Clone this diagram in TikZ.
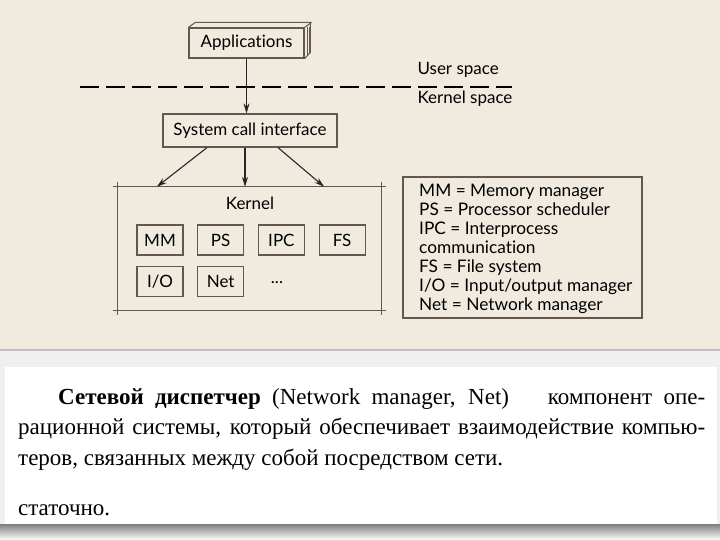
\documentclass[tikz,border=0pt]{standalone}
\usepackage{fontspec}
\setmainfont{Liberation Serif}
\newfontfamily\diagfont[Ligatures=NoCommon]{Lato}
\usetikzlibrary{arrows.meta,positioning,calc}
\definecolor{paper}{RGB}{240,234,223}
\definecolor{inkline}{RGB}{100,88,78}
\definecolor{shade}{RGB}{222,222,222}
\definecolor{lightshade}{RGB}{240,240,240}
\tikzset{unit/.style={draw=inkline,line width=1.2pt,minimum width=46pt,minimum height=30pt,inner sep=0pt,font=\diagfont\fontsize{17}{19}\selectfont},edge/.style={-{Stealth[length=10pt,width=6pt]},line width=1.1pt,draw=black!85},spacetext/.style={anchor=west,font=\diagfont\fontsize{17}{19}\selectfont}}
\begin{document}
\begin{tikzpicture}[x=1pt,y=-1pt,node distance=13.5pt]
\useasboundingbox (0,0) rectangle (720,540);
% page background
\fill[lightshade] (0,350) rectangle (720,540);
\fill[paper] (0,0) rectangle (720,350);
\draw[black!25,line width=1.5pt] (0,350) -- (720,350);
\fill[white] (5,367) rectangle (717,524);
\fill[shade] (0,524) rectangle (720,540);
% user side
\node[unit,fill=paper,minimum width=115pt,minimum height=30pt] (apps) at (246.5,43) {Applications};
\draw[inkline,line width=1pt] (apps.north west) -- ++(7,-5) -- ++(115,0) -- ++(0,30) -- (apps.south east);
\draw[inkline,line width=1pt] (apps.north east) -- ++(7,-5);
\draw[inkline,line width=0.6pt] ([xshift=2.5pt]apps.north east) -- ++(0,28);
\draw[inkline,line width=0.6pt] ([xshift=5pt]apps.north east) -- ++(0,26);
\draw[dash pattern=on 19pt off 7pt,line width=1.1pt] (80,87) -- (512,87);
\node[spacetext] (user) at (414,70) {User space};
\node[spacetext] (kspace) at (414,99) {Kernel space};
\node[unit,minimum width=174pt,minimum height=33pt] (sci) at (250,130.5) {System call interface};
% kernel
\node[minimum width=263pt,minimum height=123pt] (kernel) at (249.5,248.5) {};
\draw[inkline,line width=1.2pt,shorten <=-5pt,shorten >=-5pt] (kernel.north west) -- (kernel.north east);
\draw[inkline,line width=1.2pt,shorten <=-5pt,shorten >=-5pt] (kernel.south west) -- (kernel.south east);
\draw[inkline,line width=1.2pt,shorten <=-5pt,shorten >=-5pt] (kernel.north west) -- (kernel.south west);
\draw[inkline,line width=1.2pt,shorten <=-5pt,shorten >=-5pt] (kernel.north east) -- (kernel.south east);
\node[font=\diagfont\fontsize{17}{19}\selectfont] (ktitle) at (250,203) {Kernel};
\node[unit] (mm) at (160,240) {MM};
\node[unit,right=of mm] (ps) {PS};
\node[unit,right=of ps] (ipc) {IPC};
\node[unit,right=of ipc] (fs) {FS};
\node[unit,below=10pt of mm] (io) {I/O};
\node[unit,right=of io] (net) {Net};
\node[font=\diagfont\fontsize{17}{19}\selectfont] (more) at (277,283) {...};
% arrows
\draw[edge] (apps.south) -- (apps.south |- sci.north);
\draw[edge] ([xshift=-43pt]sci.south) -- ([xshift=39pt]kernel.north west);
\draw[edge] ([xshift=-5pt]sci.south) -- ([xshift=-5pt]sci.south |- kernel.north);
\draw[edge] ([xshift=28pt]sci.south) -- ([xshift=-57pt]kernel.north east);
% legend
\node[draw=inkline,line width=1.4pt,minimum width=239pt,minimum height=141pt] (legend) at (522.5,247.5) {};
\node[anchor=north west,align=left,inner sep=0pt,font=\diagfont\fontsize{17.3}{19}\selectfont] (legendtext) at (419,184) {MM = Memory manager\\PS = Processor scheduler\\IPC = Interprocess\\communication\\FS = File system\\I/O = Input/output manager\\Net = Network manager};
% definition text
\node[anchor=north west,text width=687pt,align=justify,inner sep=0pt,font=\fontsize{23}{30.5}\selectfont] (defn) at (18,388) {\hspace*{40pt}\textbf{Сетевой диспетчер} (Network manager, Net)\hspace{1.2em} компонент опе-\linebreak рационной системы, который обеспечивает взаимодействие компью-\linebreak теров, связанных между собой посредством сети.};
\node[anchor=base west,inner sep=0pt,font=\fontsize{23}{30}\selectfont] (tail) at (18,515) {статочно.};
\end{tikzpicture}
\end{document}
